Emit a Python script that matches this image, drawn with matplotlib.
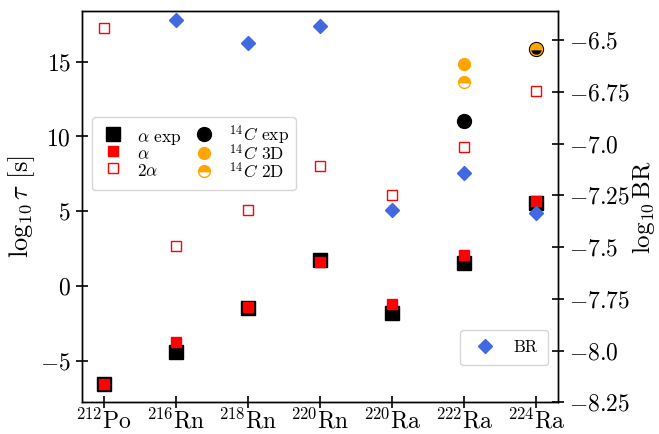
import matplotlib
matplotlib.use("Agg")
import matplotlib.pyplot as plt
import numpy as np

plt.rcParams.update({
    "font.family": "serif",
    "font.serif": ["cmr10"],
    "mathtext.fontset": "cm",
    "axes.formatter.use_mathtext": True,
    "axes.unicode_minus": True,
})

nuclei = [r"$^{212}\mathrm{Po}$", r"$^{216}\mathrm{Rn}$", r"$^{218}\mathrm{Rn}$",
          r"$^{220}\mathrm{Rn}$", r"$^{220}\mathrm{Ra}$", r"$^{222}\mathrm{Ra}$",
          r"$^{224}\mathrm{Ra}$"]
alpha_exp = [-6.53, -4.37, -1.46, 1.75, -1.77, 1.57, 5.54]
alpha_th = [-6.53, -3.75, -1.39, 1.62, -1.19, 2.08, 5.69]
two_alpha = [17.23, 2.68, 5.09, 8.05, 6.09, 9.30, 13.04]
c14_exp = [np.nan, np.nan, np.nan, np.nan, np.nan, 11.03, 15.85]
c14_3d = [np.nan, np.nan, np.nan, np.nan, np.nan, 14.84, 15.85]
c14_2d = [np.nan, np.nan, np.nan, np.nan, np.nan, 13.62, 15.85]
log_br = [np.nan, -6.405, -6.516, -6.431, -7.323, -7.142, -7.338]
br_ticks = [-6.5, -6.75, -7.0, -7.25, -7.5, -7.75, -8.0, -8.25]

x = np.arange(len(nuclei))

fig = plt.figure(figsize=(6.59, 4.34), dpi=100)
ax = fig.add_axes([82/659, 1-402.3/434, (558-82)/659, (402.3-11)/434])
ax2 = ax.twinx()

h1, = ax.plot(x, alpha_exp, ls="none", marker="s", ms=10, color="black", label=r"$\alpha$ exp", zorder=3)
h2, = ax.plot(x, alpha_th, ls="none", marker="s", ms=7, color="red", label=r"$\alpha$", zorder=4)
h3, = ax.plot(x, two_alpha, ls="none", marker="s", ms=7.5, mfc="none", mec="red", mew=1.0,
              label=r"$2\alpha$", zorder=4)
h5, = ax.plot(x, c14_3d, ls="none", marker="o", ms=8.5, color="orange", label=r"$^{14}C$ 3D", zorder=2)
h4, = ax.plot(x, c14_exp, ls="none", marker="o", ms=10, color="black", label=r"$^{14}C$ exp", zorder=3)
h6, = ax.plot(x, c14_2d, ls="none", marker="o", ms=8.5, color="orange", fillstyle="top",
              markerfacecoloralt="none", mew=1.0, label=r"$^{14}C$ 2D", zorder=4)

hb, = ax2.plot(x, log_br, ls="none", marker="D", ms=7, color="royalblue", label="BR")

ax.set_xlim(-0.3, 6.3)
ax.set_ylim(-7.76, 18.38)
ax.set_yticks([-5, 0, 5, 10, 15])
ax.set_xticks(x)
ax.set_xticklabels(nuclei)
ax2.set_ylim(-8.25, -6.36)
ax2.set_yticks(br_ticks)
ax2.set_yticklabels([f"${v}$" for v in br_ticks])

ax.set_ylabel(r"$\log_{10}\tau$ [s]", fontsize=19, labelpad=2)
ax2.set_ylabel(r"$\log_{10}\mathrm{BR}$", fontsize=18, labelpad=0)

for a in (ax, ax2):
    a.tick_params(direction="inout", length=9, width=1.2, labelsize=17)
ax.tick_params(axis="x", labelsize=17, pad=0)
for s in list(ax.spines.values()) + list(ax2.spines.values()):
    s.set_linewidth(1.0)

leg = ax.legend(handles=[h1, h2, h3, h4, h5, h6], ncol=2, loc="upper left",
                bbox_to_anchor=(0.021, 0.729), borderaxespad=0, fontsize=12.5,
                handlelength=1.6, handletextpad=0.6, columnspacing=0.5,
                handleheight=1.45, labelspacing=-0.22)
ax2.legend(handles=[hb], loc="lower right", bbox_to_anchor=(0.979, 0.095),
           borderaxespad=0, fontsize=12, borderpad=0.6, handlelength=1.8)

fig.savefig("out.png", dpi=100)
